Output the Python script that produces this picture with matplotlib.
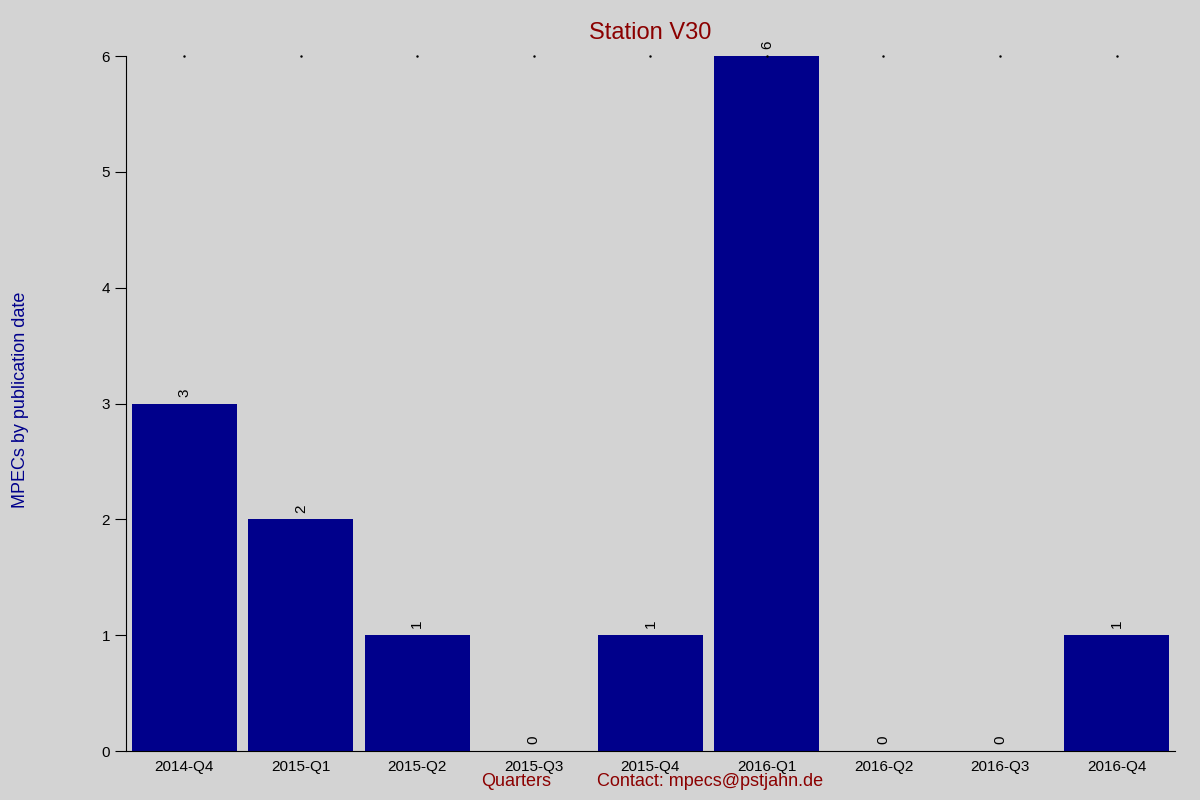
import matplotlib
matplotlib.use("Agg")
import matplotlib.pyplot as plt

quarters = ["2014-Q4", "2015-Q1", "2015-Q2", "2015-Q3", "2015-Q4",
            "2016-Q1", "2016-Q2", "2016-Q3", "2016-Q4"]
counts = [3, 2, 1, 0, 1, 6, 0, 0, 1]

plt.rcParams['font.family'] = ['Liberation Sans', 'DejaVu Sans']
bg = '#d3d3d3'
fig = plt.figure(figsize=(12, 8), dpi=100, facecolor=bg)
ax = fig.add_axes([0.105, 0.061, 0.874, 0.869], facecolor=bg)

x = range(len(quarters))
ax.bar(x, counts, width=0.9, color='#00008b')
for i, c in zip(x, counts):
    ax.text(i, c + 0.06, str(c), rotation=90, ha='center', va='bottom', fontsize=11)
# small dots along the top at each category
ax.plot(list(x), [6] * len(quarters), ls='none', marker='.', ms=1.5, color='black', clip_on=False)

ax.set_xlim(-0.5, 8.5)
ax.set_ylim(0, 6)
ax.set_xticks(list(x))
ax.set_xticklabels(quarters, fontsize=11)
ax.set_yticks(range(7))
ax.tick_params(axis='x', length=0, pad=6)
ax.tick_params(axis='y', length=8, labelsize=11, direction='out')
for s in ['top', 'right']:
    ax.spines[s].set_visible(False)

ax.set_title("Station V30", color='#8b0000', fontsize=17, pad=12)
fig.text(0.43, 0.018, "Quarters", color='#8b0000', fontsize=13, ha='center')
fig.text(0.592, 0.018, "Contact: mpecs\u0237pstjahn.de".replace('\u0237p', '@p') if False else "Contact: mpecs@pstjahn.de",
         color='#8b0000', fontsize=13, ha='center')
fig.text(0.01, 0.5, "MPECs by publication date", color='#00008b', fontsize=13,
         rotation=90, va='center')

fig.savefig("out.png", dpi=100, facecolor=bg)
